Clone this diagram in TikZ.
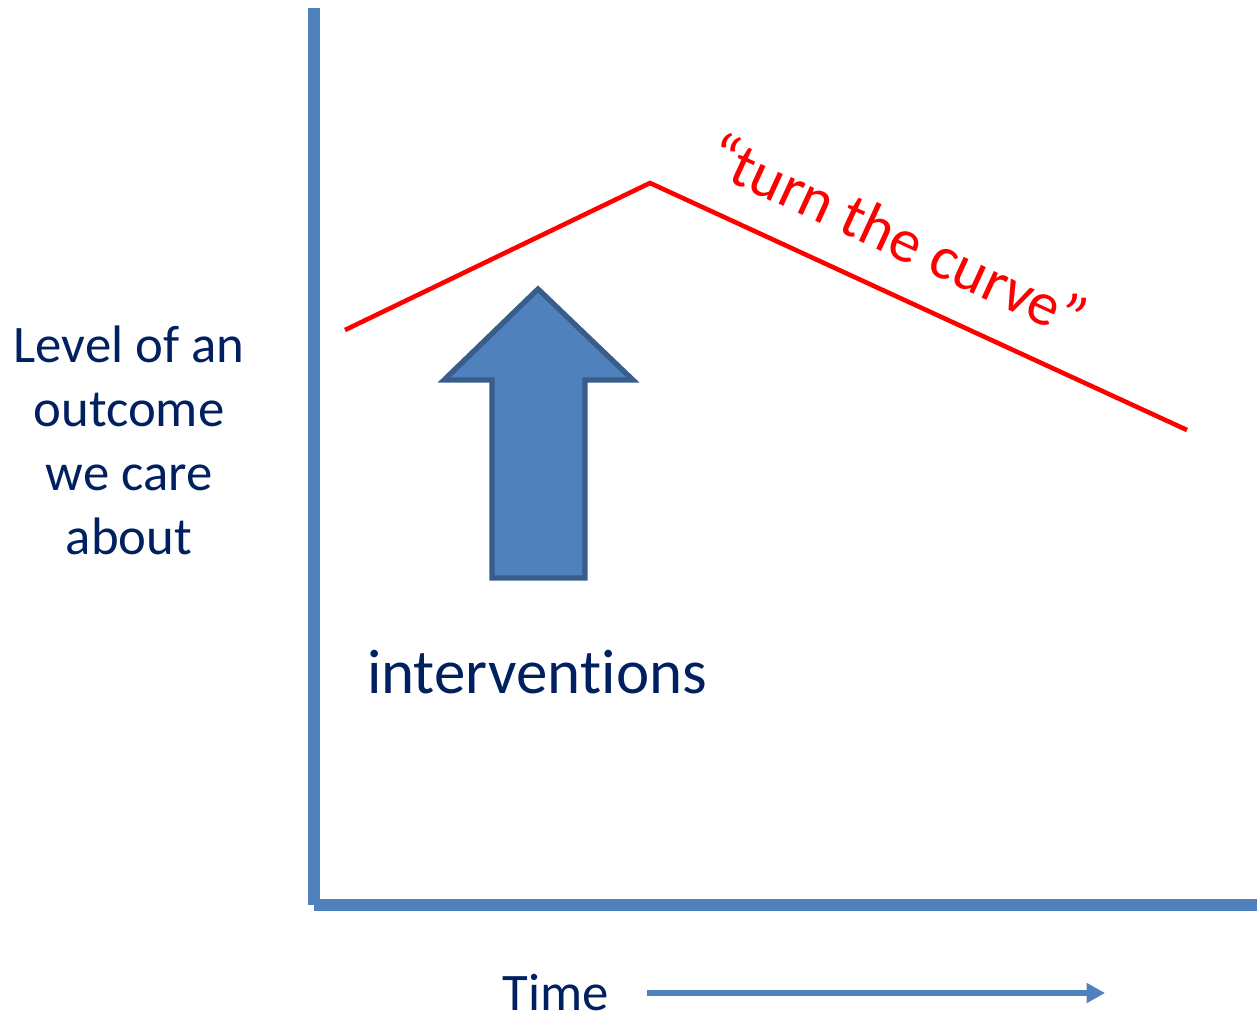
\documentclass[tikz,border=0pt]{standalone}
\usepackage{fontspec}
\setmainfont{Carlito}[Ligatures={NoCommon,NoRequired,NoContextual,NoRare},RawFeature={-calt}]
\usetikzlibrary{arrows.meta,positioning}
\definecolor{axisblue}{RGB}{79,129,189}
\definecolor{arrowedge}{RGB}{56,93,138}
\definecolor{textnavy}{RGB}{0,32,96}
\definecolor{curvered}{RGB}{255,0,0}

\begin{document}
\begin{tikzpicture}[x=0.01cm,y=-0.01cm,
    axisline/.style={axisblue,line width=3.4pt},
    labeltext/.style={textnavy,font=\fontsize{15}{18.2}\selectfont,align=center}]
  \useasboundingbox (0,0) rectangle (1257,1017);
  % axes
  \coordinate (ytop) at (314,8);
  \coordinate (ybot) at (314,905);
  \coordinate (xleft) at (314,905);
  \coordinate (xright) at (1257,905);
  \draw[axisline] (ytop) -- (ybot);
  \draw[axisline] (xleft) -- (xright);
  % the curve
  \coordinate (c0) at (345,330);
  \coordinate (cpeak) at (650,183);
  \coordinate (c1) at (1187,430);
  \draw[curvered,line width=1.3pt] (c0) -- (cpeak) -- (c1);
  \node[curvered,font=\fontsize{17.5}{20}\selectfont,rotate=-24.7] (turn) at (898,235) {“turn the curve”};
  % block arrow
  \draw[arrowedge,fill=axisblue,line width=1.5pt,line join=miter]
    (538,289) -- (633,380) -- (585,380) -- (585,578) -- (492,578) -- (492,380) -- (444,380) -- cycle;
  \node[textnavy,font=\fontsize{17.9}{20}\selectfont] (interv) at (537,672) {interven\kern0pt t\kern0pt ions};
  % labels
  \node[labeltext] (level) at (129,440) {Level of an\\outcome\\we care\\about};
  \node[labeltext] (time) at (556,993) {Time};
  \coordinate (tstart) at (647,993);
  \coordinate (tend) at (1105,993);
  \draw[axisblue,line width=1.5pt,-{Triangle[length=5.2pt,width=5.4pt]}] (tstart) -- (tend);
\end{tikzpicture}
\end{document}
